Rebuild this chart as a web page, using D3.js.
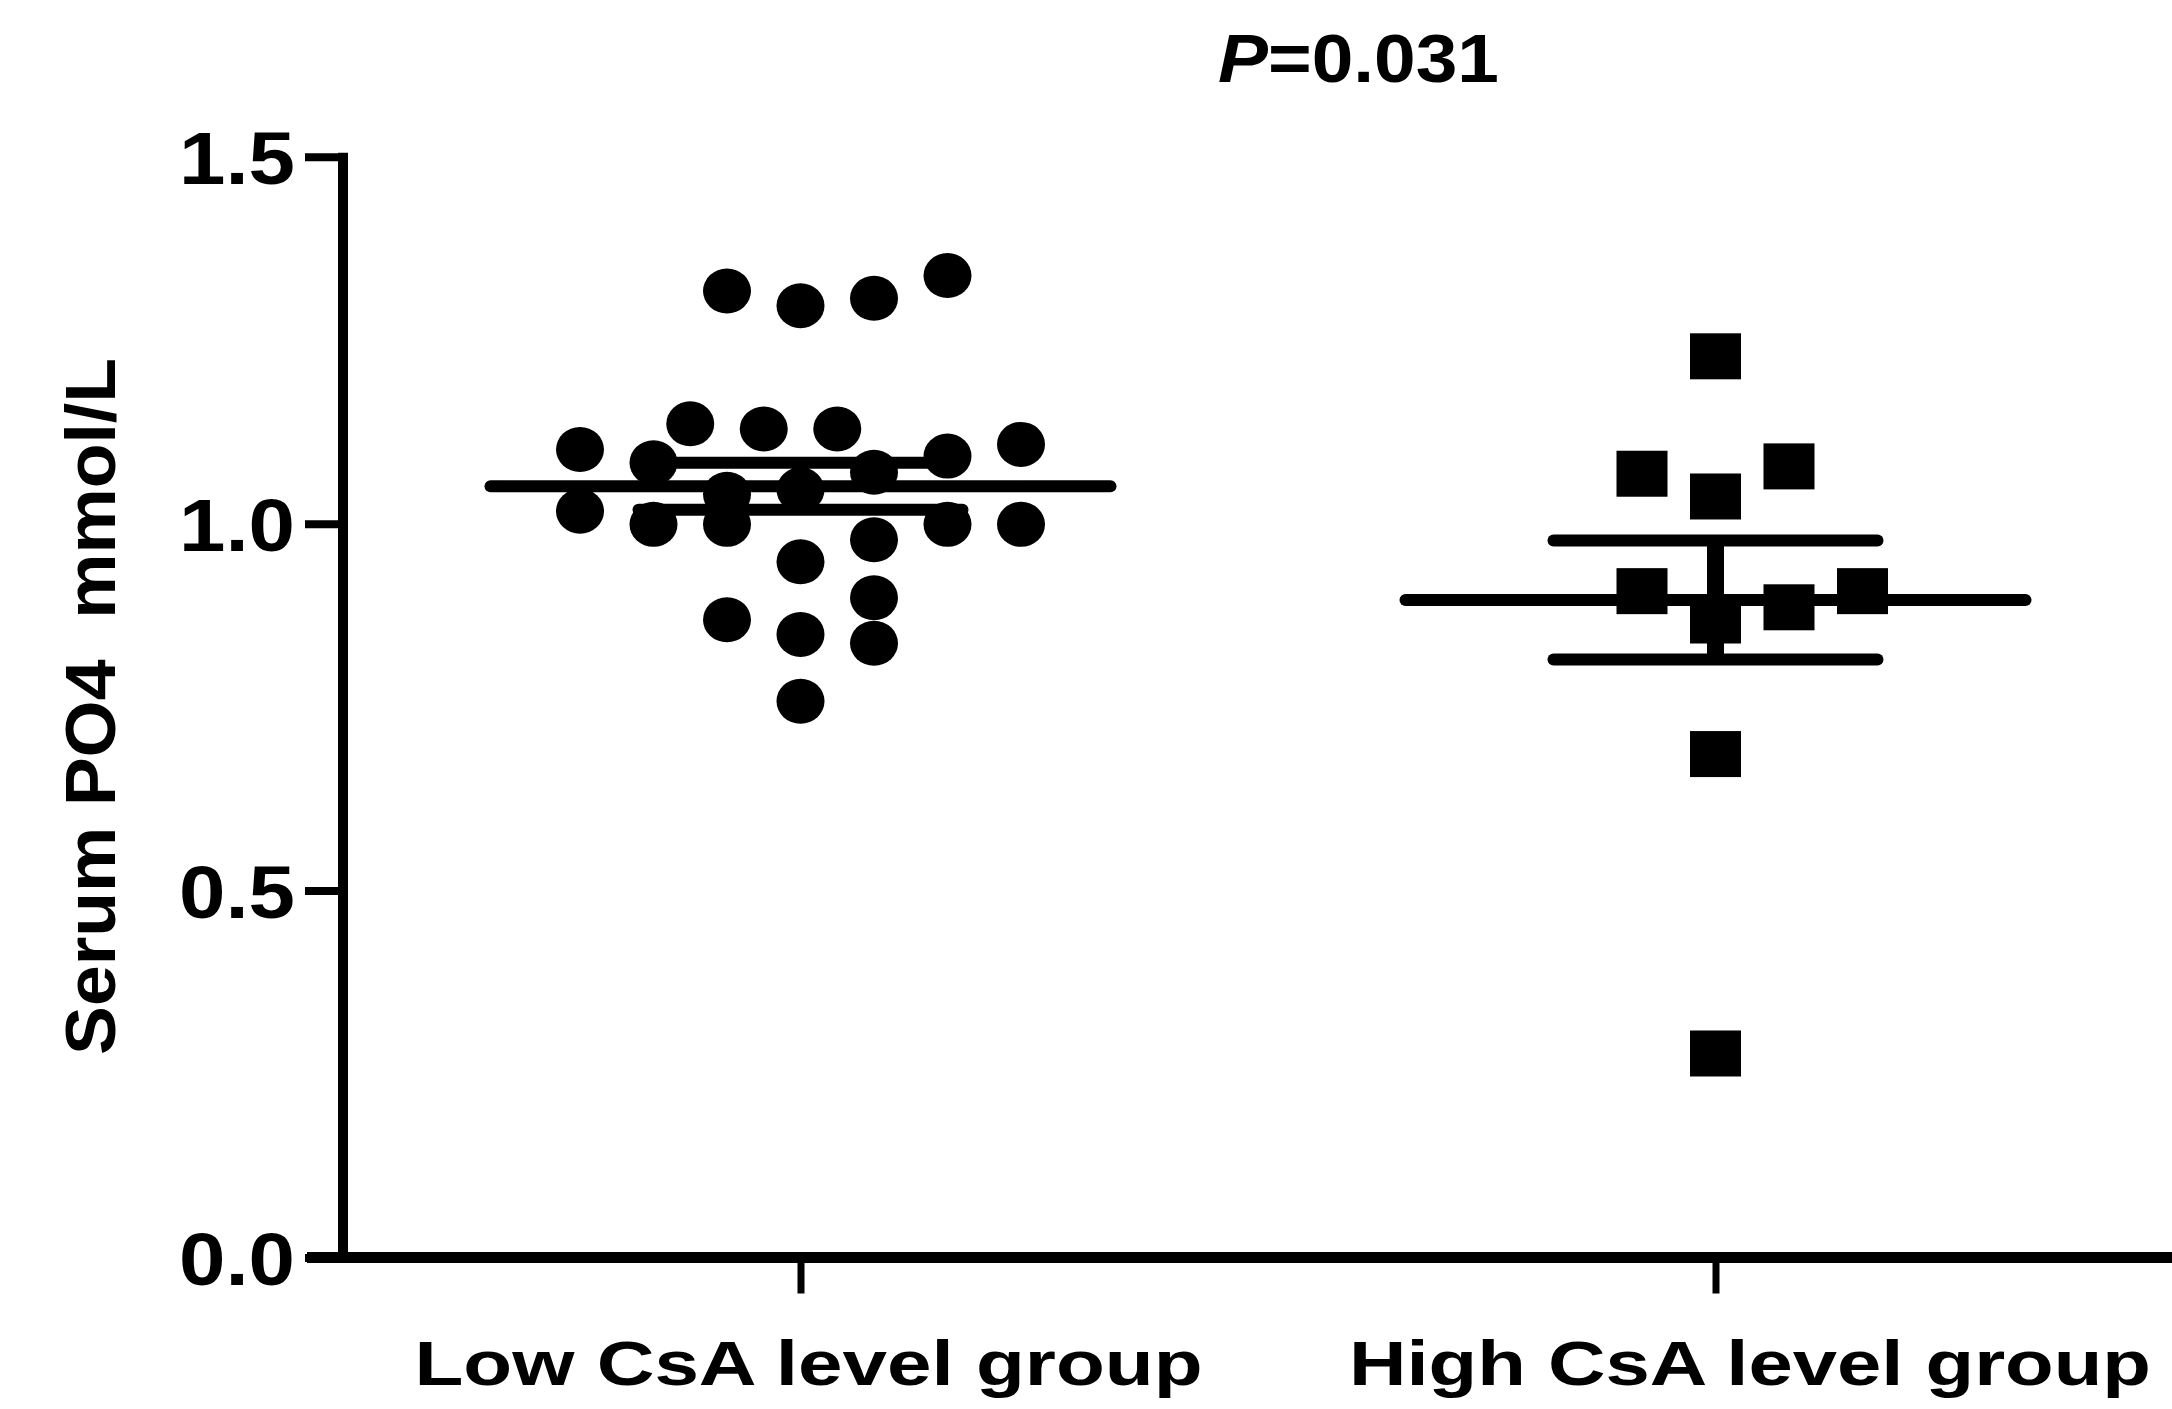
<!DOCTYPE html>
<html>
<head>
<meta charset="utf-8">
<script src="https://cdn.jsdelivr.net/npm/d3@7"></script>
<style>
  html, body { margin: 0; padding: 0; background: #fff; }
  svg { display: block; }
  text { font-family: "Liberation Sans", Arial, sans-serif; font-weight: bold; fill: #000; }
</style>
</head>
<body>
<script>
// ---- data ----
const categories = ["Low CsA level group", "High CsA level group"];

const lowValues = [1.317, 1.297, 1.307, 1.338,
  1.101, 1.136, 1.129, 1.129, 1.108, 1.092, 1.083, 1.070,
  1.017, 0.999, 1.040, 0.999, 1.046, 0.999, 0.999,
  0.978, 0.948, 0.899, 0.869, 0.849, 0.837, 0.758];
// horizontal scatter slot of each point (in marker widths from the group centre)
const lowJitter = [-1, 0, 1, 2,
  -3, -1.5, -0.5, 0.5, 3, 2, -2, 1,
  -3, -2, -1, -1, 0, 2, 3,
  1, 0, 1, -1, 0, 1, 0];

const highValues = [1.228, 1.068, 1.037, 1.078, 0.908, 0.868, 0.886, 0.908, 0.686, 0.278];
const highJitter = [0, -1, 0, 1, -1, 0, 1, 2, 0, 0];

const groupMeans = [1.051, 0.896];
const groupSEM = [0.032, 0.081];

const yTicks = [0.0, 0.5, 1.0, 1.5];
const yTitle = "Serum PO4\u00a0\u00a0mmol/L";
const pLabelItalic = "P";
const pLabelRest = "=0.031";

// ---- drawing ----
const W = 2172, H = 1409;
const svg = d3.select("body").append("svg").attr("width", W).attr("height", H);

const y = d3.scaleLinear().domain([0, 1.5]).range([1257.5, 156.7]);
const x = d3.scalePoint().domain(categories).range([800.5, 1715.5]);
const jit = d3.scaleLinear().domain([0, 1]).range([0, 73.5]);

const axisX = 343;

// Y axis
const yAxis = d3.axisLeft(y).tickValues(yTicks).tickFormat(d3.format(".1f")).tickSize(38).tickPadding(10);
const gy = svg.append("g").attr("transform", `translate(${axisX},0)`).call(yAxis);
gy.select(".domain").remove();
gy.selectAll(".tick line").attr("stroke", "#000").attr("stroke-width", 8);
gy.selectAll(".tick text").attr("font-size", 74).attr("font-family", "Liberation Sans, Arial, sans-serif")
  .attr("font-weight", "bold").attr("fill", "#000").attr("dy", "0.36em")
  .attr("textLength", 116).attr("lengthAdjust", "spacingAndGlyphs");
svg.append("line").attr("x1", axisX).attr("x2", axisX)
  .attr("y1", y(1.5) - 4).attr("y2", y(0) + 5)
  .attr("stroke", "#000").attr("stroke-width", 10);

// X axis
const xAxis = d3.axisBottom(x).tickSize(36).tickFormat("");
const gx = svg.append("g").attr("transform", `translate(0,${y(0)})`).call(xAxis);
gx.select(".domain").remove();
gx.selectAll(".tick line").attr("stroke", "#000").attr("stroke-width", 7);
svg.append("line").attr("x1", axisX - 36).attr("x2", W)
  .attr("y1", y(0)).attr("y2", y(0))
  .attr("stroke", "#000").attr("stroke-width", 11);

// category labels
const labelCenters = [808.5, 1750];
const labelLengths = [788, 802];
svg.selectAll("text.cat").data(categories).join("text")
  .attr("class", "cat")
  .attr("x", (d, i) => labelCenters[i])
  .attr("y", 1385)
  .attr("text-anchor", "middle")
  .attr("font-size", 63)
  .attr("textLength", (d, i) => labelLengths[i])
  .attr("lengthAdjust", "spacingAndGlyphs")
  .text(d => d);

// Y title
svg.append("text")
  .attr("transform", `translate(115,${(358 + 1055) / 2}) rotate(-90)`)
  .attr("text-anchor", "middle")
  .attr("font-size", 70)
  .attr("textLength", 697)
  .attr("lengthAdjust", "spacingAndGlyphs")
  .text(yTitle);

// P value
const pt = svg.append("text")
  .attr("x", 1218).attr("y", 82)
  .attr("font-size", 68)
  .attr("textLength", 281)
  .attr("lengthAdjust", "spacingAndGlyphs");
pt.append("tspan").attr("font-style", "italic").text(pLabelItalic);
pt.append("tspan").text(pLabelRest);

// points
const lowData = lowValues.map((v, i) => ({ v, j: lowJitter[i] }));
const highData = highValues.map((v, i) => ({ v, j: highJitter[i] }));

svg.append("g").selectAll("ellipse").data(lowData).join("ellipse")
  .attr("cx", d => x(categories[0]) + jit(d.j))
  .attr("cy", d => y(d.v))
  .attr("rx", 24).attr("ry", 22.5)
  .attr("fill", "#000");

svg.append("g").selectAll("rect").data(highData).join("rect")
  .attr("x", d => x(categories[1]) + jit(d.j) - 25.5)
  .attr("y", d => y(d.v) - 23)
  .attr("width", 51).attr("height", 46)
  .attr("fill", "#000");

// mean and SEM bars
const meanHalf = 310, barHalf = 162;
const g = svg.append("g").attr("stroke", "#000").attr("stroke-linecap", "round");
categories.forEach((c, i) => {
  const cx = x(c), m = groupMeans[i], s = groupSEM[i];
  g.append("line").attr("x1", cx).attr("x2", cx)
    .attr("y1", y(m + s)).attr("y2", y(m - s)).attr("stroke-width", 17).attr("stroke-linecap", "butt");
  g.append("line").attr("x1", cx - meanHalf).attr("x2", cx + meanHalf)
    .attr("y1", y(m)).attr("y2", y(m)).attr("stroke-width", 12);
  [m + s, m - s].forEach(v => {
    g.append("line").attr("x1", cx - barHalf).attr("x2", cx + barHalf)
      .attr("y1", y(v)).attr("y2", y(v)).attr("stroke-width", 12);
  });
});
</script>
</body>
</html>
